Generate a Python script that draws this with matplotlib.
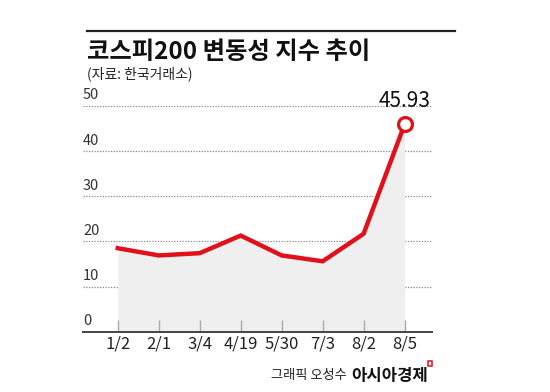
import matplotlib
matplotlib.use("Agg")
import matplotlib.pyplot as plt
from matplotlib.patches import Rectangle
from matplotlib.lines import Line2D

plt.rcParams["font.family"] = ["Noto Sans CJK KR", "DejaVu Sans"]

dates = ["1/2", "2/1", "3/4", "4/19", "5/30", "7/3", "8/2", "8/5"]
vkospi = [18.5, 16.9, 17.4, 21.3, 16.9, 15.6, 21.7, 45.93]
y_ticks = [0, 10, 20, 30, 40, 50]

RED = "#e0111b"
x = list(range(len(dates)))

fig = plt.figure(figsize=(5.5, 3.92), dpi=100)
ax = fig.add_axes([0.151, 0.1538, 0.635, 0.5758])
ax.set_xlim(-0.847, 7.676)
ax.set_ylim(0, 50)

ax.fill_between(x, vkospi, 0, color="#efefef", lw=0, zorder=1)
for v in y_ticks[1:]:
    ax.axhline(v, color="#888888", lw=0.9, ls=(0, (1, 1.2)), zorder=0)
for v in y_ticks:
    ax.text(0.0, v + 0.8, str(v), transform=ax.get_yaxis_transform(),
            ha="left", va="bottom", fontsize=10.5, color="#333333")

ax.plot(x, vkospi, color=RED, lw=3.2, solid_joinstyle="miter", zorder=3)
ax.plot(x[-1], vkospi[-1], "o", ms=10, mfc="white", mec=RED, mew=2.3, zorder=4)
ax.annotate(f"{vkospi[-1]:.2f}", (x[-1], vkospi[-1]), xytext=(0, 9),
            textcoords="offset points", ha="center", va="bottom",
            fontsize=15, fontweight="medium", color="#111111")

for s in ["left", "right", "top"]:
    ax.spines[s].set_visible(False)
ax.spines["bottom"].set_color("#444444")
ax.spines["bottom"].set_linewidth(1.4)
ax.set_yticks([])
ax.set_xticks(x)
ax.set_xticklabels(dates, fontsize=12, color="#222222")
ax.tick_params(axis="x", direction="in", length=8.5, width=1, color="#aaaaaa", pad=3)

# header
fig.add_artist(Line2D([87 / 550, 455 / 550], [1 - 31 / 392, 1 - 31 / 392],
                      color="#222222", lw=1.6))
fig.text(87 / 550, 1 - 52 / 392, "코스피200 변동성 지수 추이", fontsize=17.5,
         fontweight="bold", color="#111111", va="center", ha="left")
fig.text(87 / 550, 1 - 74 / 392, "(자료: 한국거래소)", fontsize=10,
         color="#222222", va="center", ha="left")

# credit
fig.text(347 / 550, 1 - 376 / 392, "그래픽 오성수", fontsize=9.5,
         color="#222222", va="center", ha="right")
fig.text(351 / 550, 1 - 376 / 392, "아시아경제", fontsize=12,
         fontweight="bold", color="#111111", va="center", ha="left")
fig.add_artist(Rectangle((428 / 550, 1 - 366 / 392), 4 / 550, 5 / 392,
                         fill=False, ec=RED, lw=1.1))

fig.savefig("out.png", dpi=100)
